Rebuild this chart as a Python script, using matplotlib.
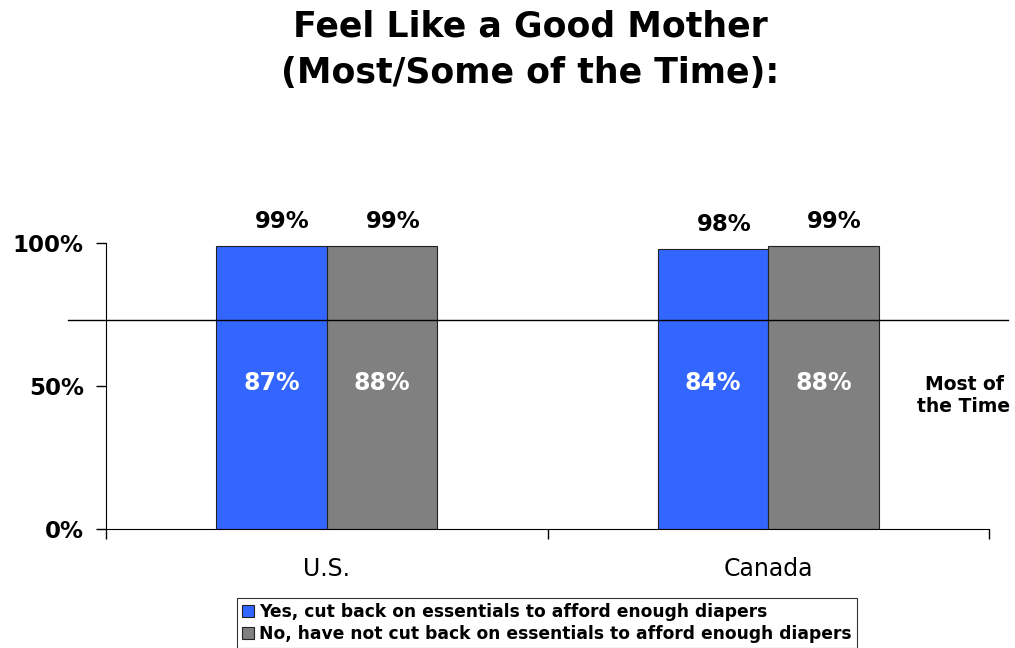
import numpy as np
import matplotlib
matplotlib.use("Agg")
import matplotlib.pyplot as plt
from matplotlib.patches import Patch

# chart values
categories = ["U.S.", "Canada"]
series_names = [
    "Yes, cut back on essentials to afford enough diapers",
    "No, have not cut back on essentials to afford enough diapers",
]
most_some = [[0.99, 0.98], [0.99, 0.99]]   # bar heights (Most/Some of the Time)
most_only = [[0.87, 0.84], [0.88, 0.88]]   # labels inside bars (Most of the Time)
colors = ["#3366FF", "#808080"]
yticks = [0, 0.5, 1.0]
ytick_labels = ["0%", "50%", "100%"]
most_line = 0.73

plt.rcParams["font.family"] = ["DejaVu Sans"]

fig = plt.figure(figsize=(10.15, 6.48), dpi=100)
ax = fig.add_axes([106 / 1015, 1 - 529 / 648, 883 / 1015, 286 / 648])

x = np.arange(len(categories))
width = 0.25
offsets = [-width / 2, width / 2]

for i, name in enumerate(series_names):
    xs = x + offsets[i]
    ax.bar(xs, most_some[i], width, color=colors[i], edgecolor="#222222",
           linewidth=0.8, label=name, zorder=2)
    for xi, top, inner in zip(xs, most_some[i], most_only[i]):
        ax.annotate(f"{round(top * 100)}%", (xi, top), xytext=(8, 9),
                    textcoords="offset points", ha="center", va="bottom",
                    fontsize=16.5, fontweight="bold", color="black")
        ax.text(xi, 0.51, f"{round(inner * 100)}%", ha="center", va="center",
                fontsize=17, fontweight="bold", color="white", zorder=3)

# separator between "Most" and "Some" of the time
ax.axhline(most_line, xmin=-0.043, xmax=1.0215, color="black", linewidth=1,
           clip_on=False, zorder=4)
fig.text(964 / 1015, 1 - 395 / 648, "Most of\nthe Time", ha="center",
         va="center", fontsize=13.5, fontweight="bold", linespacing=1.2)

ax.set_xlim(-0.5, 1.5)
ax.set_ylim(0, 1)
ax.set_yticks(yticks)
ax.set_yticklabels(ytick_labels, fontsize=16.5, fontweight="bold")
ax.tick_params(axis="y", length=7, width=1, pad=9)

ax.set_xticks(x)
ax.set_xticklabels(categories, fontsize=17)
ax.set_xticks([-0.5, 0.5, 1.5], minor=True)
ax.tick_params(axis="x", which="major", length=0, pad=20)
ax.tick_params(axis="x", which="minor", length=7, width=1)

for side in ["top", "right"]:
    ax.spines[side].set_visible(False)

fig.text(530 / 1015, 1 - 50 / 648, "Feel Like a Good Mother\n(Most/Some of the Time):",
         ha="center", va="center", fontsize=25, fontweight="bold", linespacing=1.45)

handles = [Patch(facecolor=c, edgecolor="#222222", linewidth=0.8) for c in colors]
leg = fig.legend(handles, series_names, loc="upper center",
                 bbox_to_anchor=(547 / 1015, 1 - 598 / 648), ncol=1,
                 frameon=True, fancybox=False, edgecolor="black",
                 prop={"size": 12.3, "weight": "bold"}, handlelength=0.7,
                 handleheight=0.7, handletextpad=0.3, borderpad=0.3,
                 labelspacing=0.2, borderaxespad=0)
leg.get_frame().set_linewidth(0.8)

fig.savefig("out.png", dpi=100)
